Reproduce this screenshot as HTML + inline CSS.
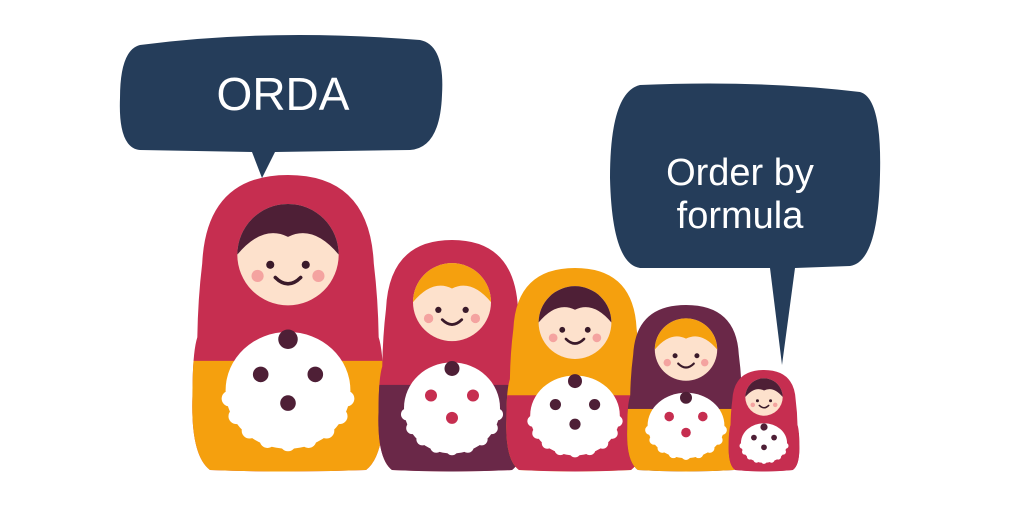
<!DOCTYPE html>
<html><head><meta charset="utf-8"><style>
html,body{margin:0;padding:0;background:#fff;width:1024px;height:512px;overflow:hidden;}
svg{display:block;}
text{font-family:"Liberation Sans",sans-serif;fill:#fff;}
</style></head><body>
<svg id="scene" width="1024" height="512" viewBox="0 0 1024 512" xmlns="http://www.w3.org/2000/svg">
<rect width="1024" height="512" fill="#fff"/>
<g>
<path d="M140,45 Q270,28 420,40 Q445,45 442,95 Q440,148 410,150 L275,152 L262,178 L252,152 L140,150 Q118,148 120,98 Q120,50 140,45 Z" fill="#253d5a"/>
<text x="283" y="110" font-size="46" text-anchor="middle">ORDA</text>
</g>
<g>
<path d="M640,85 Q760,80 860,92 Q882,98 880,175 Q878,262 850,266 L795,268 L782,365 L770,268 L640,268 Q612,264 610,178 Q610,92 640,85 Z" fill="#253d5a"/>
<text x="740" y="185" font-size="38" text-anchor="middle">Order by</text>
<text x="740" y="228" font-size="38" text-anchor="middle">formula</text>
</g>
<g id="dolls"></g>
</svg>
<script>
const NS="http://www.w3.org/2000/svg";
const C="#c62e50",O="#f5a00e",P="#6a2848",D="#4e1f36",F="#fde1cc";
const dolls=[
 [288,175,470,195,C,O,D],
 [452,240,470,150,C,P,O],
 [575,268,470,140,O,C,D],
 [686,305,470,120,P,O,O],
 [764,370,470,72,C,C,D]
];
const g=document.getElementById('dolls');
function el(t,a,p){const e=document.createElementNS(NS,t);for(const k in a)e.setAttribute(k,a[k]);(p||g).appendChild(e);return e;}
dolls.forEach((d,i)=>{
 const [cx,top,bot,w,hood,body,hair]=d;const h=bot-top;
 const grp=el('g',{});
 
 
 const hw=w*0.44,bw=w*0.5;
 const path=`M${cx-bw*0.8},${bot} Q${cx-bw*1.0},${bot-h*0.05} ${cx-bw*0.98},${top+h*0.75} Q${cx-bw*0.98},${top+h*0.6} ${cx-bw*0.93},${top+h*0.55} Q${cx-hw*1.05},${top+h*0.42} ${cx-hw},${top+h*0.3} Q${cx-hw*0.95},${top} ${cx},${top} Q${cx+hw*0.95},${top} ${cx+hw},${top+h*0.3} Q${cx+hw*1.05},${top+h*0.42} ${cx+bw*0.93},${top+h*0.55} Q${cx+bw*0.98},${top+h*0.6} ${cx+bw*0.98},${top+h*0.75} Q${cx+bw*1.0},${bot-h*0.05} ${cx+bw*0.8},${bot} Q${cx},${bot+3} ${cx-bw*0.8},${bot} Z`;
 const cp=el('clipPath',{id:'cp'+i},grp);el('path',{d:path},cp);
 el('path',{d:path,fill:hood},grp);
 el('rect',{x:cx-w,y:top+h*0.63,width:2*w,height:h,fill:body,'clip-path':`url(#cp${i})`},grp);
 const ay=top+h*0.55,aw=w*0.32,ah=h*0.36;
 el('ellipse',{cx:cx,cy:ay+ah*0.5,rx:aw,ry:ah*0.55,fill:'#fff'},grp);
 for(let k=0;k<9;k++){const a=Math.PI*(0.05+0.9*k/8);el('circle',{cx:cx-Math.cos(a)*aw*0.95,cy:ay+ah*0.5+Math.sin(a)*ah*0.5,r:w*0.04,fill:'#fff'},grp);}
 const fr=w*0.04;
 [[-0.14,0.35],[0.14,0.35],[0,0.62]].forEach(p=>el('circle',{cx:cx+p[0]*w,cy:ay+p[1]*ah,r:fr,fill:i%2?C:D},grp));
 el('circle',{cx:cx,cy:ay+2,r:w*0.05,fill:D},grp);
 const fy=top+h*0.27,r=w*0.26;
 el('circle',{cx:cx,cy:fy,r:r,fill:F},grp);
 el('path',{d:`M${cx-r},${fy} A${r},${r} 0 0 1 ${cx+r},${fy} Q${cx+r*0.5},${fy-r*0.6} ${cx},${fy-r*0.35} Q${cx-r*0.5},${fy-r*0.6} ${cx-r},${fy} Z`,fill:hair},grp);
 el('circle',{cx:cx-r*0.35,cy:fy+r*0.2,r:r*0.08,fill:'#3a1a2a'},grp);
 el('circle',{cx:cx+r*0.35,cy:fy+r*0.2,r:r*0.08,fill:'#3a1a2a'},grp);
 el('circle',{cx:cx-r*0.6,cy:fy+r*0.42,r:r*0.12,fill:'#f4a3a0'},grp);
 el('circle',{cx:cx+r*0.6,cy:fy+r*0.42,r:r*0.12,fill:'#f4a3a0'},grp);
 el('path',{d:`M${cx-r*0.25},${fy+r*0.45} Q${cx},${fy+r*0.7} ${cx+r*0.25},${fy+r*0.45}`,stroke:'#3a1a2a','stroke-width':Math.max(1.5,r*0.07),fill:'none','stroke-linecap':'round'},grp);
});
</script>
</body></html>
